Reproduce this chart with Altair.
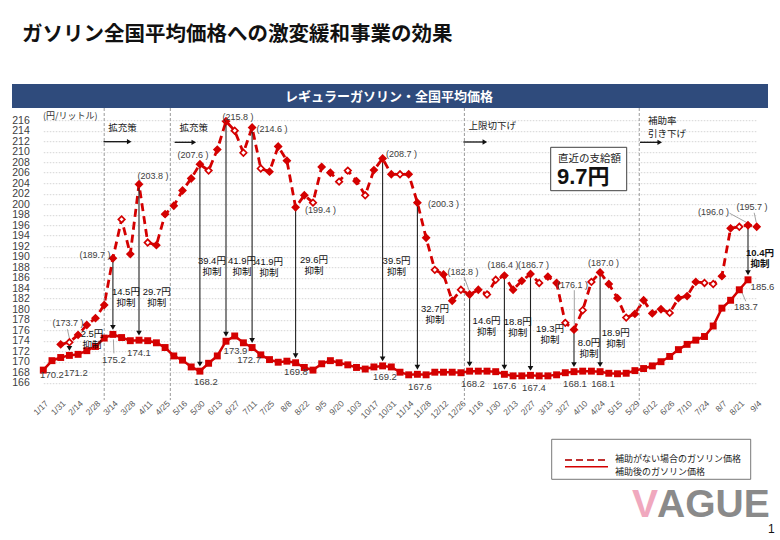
import json
import altair as alt
import pandas as pd

# ---------------- data ----------------
date_labels = ["1/17", "1/31", "2/14", "2/28", "3/14", "3/28", "4/11", "4/25",
               "5/16", "5/30", "6/13", "6/27", "7/11", "7/25", "8/8", "8/22",
               "9/5", "9/20", "10/3", "10/17", "10/31", "11/14", "11/28", "12/12",
               "12/26", "1/16", "1/30", "2/13", "2/27", "3/13", "3/27", "4/10",
               "4/24", "5/15", "5/29", "6/12", "6/26", "7/10", "7/24", "8/7",
               "8/21", "9/4"]

# 補助後のガソリン価格 (weekly, index 0..81)
after_subsidy = [168.4, 170.2, 170.8, 171.2, 171.4, 172.1, 172.9, 174.5, 175.2, 174.6,
                 174.0, 174.1, 174.0, 173.6, 172.7, 171.1, 170.3, 169.0, 168.2, 169.7,
                 171.1, 173.9, 174.9, 173.6, 172.7, 171.3, 170.4, 169.9, 170.1, 169.8,
                 168.9, 168.4, 169.6, 170.2, 169.8, 169.4, 168.9, 168.6, 169.0, 169.2,
                 169.0, 168.0, 167.5, 167.6, 167.5, 168.0, 168.0, 168.0, 167.9, 168.2,
                 168.2, 168.2, 168.1, 167.6, 167.3, 167.3, 167.4, 167.3, 167.3, 167.5,
                 167.9, 168.1, 168.2, 168.2, 168.1, 167.8, 167.7, 167.8, 168.3, 168.7,
                 169.2, 170.0, 171.0, 172.3, 173.3, 174.1, 174.8, 176.8, 180.2, 181.7,
                 183.7, 185.6]

# 補助がない場合のガソリン価格 (weekly, index 2..82)
no_subsidy_start = 2
no_subsidy = [173.3, 173.7, 175.1, 177.0, 178.3, 180.8, 189.7, 197.1, 190.5, 203.8,
              192.7, 192.2, 198.1, 199.7, 202.6, 204.9, 207.6, 206.4, 210.4, 215.8,
              214.0, 209.8, 214.6, 206.8, 206.2, 211.0, 208.3, 199.4, 201.7, 200.3,
              207.1, 206.0, 204.3, 206.4, 204.4, 201.7, 206.5, 208.7, 205.7, 205.7,
              205.7, 200.3, 193.6, 187.5, 186.6, 181.6, 183.7, 182.8, 183.7, 182.8,
              185.6, 186.4, 183.7, 185.4, 186.7, 185.0, 186.2, 185.0, 177.4, 176.1,
              179.8, 185.2, 187.0, 184.8, 182.1, 178.4, 179.1, 181.7, 179.2, 180.0,
              179.3, 182.1, 182.5, 185.2, 185.0, 184.8, 186.3, 195.4, 195.7, 196.0,
              195.7]
no_subsidy_open = [3, 9, 12, 19, 22, 23, 25, 31, 34, 35, 37, 41, 45, 48, 51, 52,
                   57, 60, 62, 63, 67, 72, 76, 77, 80]

subsidy_idx = [3, 8, 11, 18, 21, 24, 29, 39, 43, 49, 53, 56, 61, 64, 81]
subsidy_amount = [2.5, 14.5, 29.7, 39.4, 41.9, 41.9, 29.6, 39.5, 32.7, 14.6,
                  18.8, 19.3, 8.0, 18.9, 10.4]

no_subsidy_label_idx = [3, 8, 11, 18, 21, 24, 29, 39, 43, 49, 53, 56, 61, 64, 81, 82]
after_label_idx = [1, 3, 8, 11, 18, 21, 24, 29, 39, 43, 49, 53, 56, 61, 64, 80, 81]

policy_idx = [7, 14.6, 48.4, 68.5]
policy_text = [["拡充策"], ["拡充策"], ["上限切下げ"], ["補助率", "引き下げ"]]

title_text = "ガソリン全国平均価格への激変緩和事業の効果"
banner_text = "レギュラーガソリン・全国平均価格"
unit_text = "(円/リットル)"
latest_label = "直近の支給額"
latest_value = "9.7円"
legend_dashed = "補助がない場合のガソリン価格"
legend_solid = "補助後のガソリン価格"
suppress_word = "抑制"

# ---------------- layout / style ----------------
RED = "#D40000"
NUMFONT = "Liberation Sans, Noto Sans CJK JP"
JPFONT = "Noto Sans CJK JP"
W, H = 713.4, 262.5
PAD_L, PAD_T = 43.3, 120.2
X_MAX = 82
Y_MIN, Y_MAX = 166, 216
PX_X = W / X_MAX            # pixels per index step
PX_Y = H / (Y_MAX - Y_MIN)  # pixels per yen


def ax(a):
    return a - PAD_L


def ay(a):
    return a - PAD_T


def sx(i):
    return i * PX_X


# label offsets (pixels) relative to their point
no_sub_label_off = [(-1.4, -19), (-18, -3), (14, -8), (-7, -9), (12, -4), (20, 1),
                    (25, 3), (19, -5), (26, 1.5), (-6.6, -23), (-1.5, -10.6), (3, -9),
                    (-1.5, -44.7), (3.4, -9.8), (-34.5, -13), (-4.7, -19.5)]
after_label_off = [(0, 14), (6.5, 18), (1, 25.6), (0, 13), (6, 10.6), (9.5, 9.5),
                   (-3, 12.5), (0.4, 9.6), (2.4, 10.8), (2.6, 12.4), (3.4, 13), (0, 11.4),
                   (3.5, 12.3), (1, 12.6), (3, 12.6), (6.5, 17), (14.5, 7.5)]
subsidy_label_off = [(22.6, -21.4), (13, -42.7), (17.7, -48.5), (12, -110.5), (16, -80.5),
                     (17, -85.2), (18.4, -102.8), (14, -104.9), (17.6, -65.3), (17, -50.2),
                     (13.3, -52), (19.5, -46.4), (15, -28.7), (15.6, -38.7), (12, -26.5)]
LINE2 = 11
HEAD_UP = 7  # arrow head centre above the solid point (px)

# thin leader lines: (index, series, start offset px, end offset px) relative to the point
leaders = [(3, "no", (-2, -13), (0, -4)),
           (8, "after", (0.5, 5), (1, 19)),
           (49, "no", (-5.5, -17.5), (-0.5, -4)),
           (61, "no", (0.3, -39.5), (0.3, -5)),
           (80, "after", (2.4, 2), (6.5, 11.5)),
           (81, "no", (-18.5, -12), (-1, -2.5)),
           (82, "no", (-2.5, -14), (-0.5, -4.5))]

policy_text_off = [(4, [128.3]), (9.3, [128.3]), (4, [125.5]), (8.7, [121.2, 133.8])]
policy_arrow = [(-0.7, 28, 141.7), (4.3, 26.5, 142.3), (-1, 23.5, 142), (0.7, 23.5, 142.3)]

# ---------------- tables ----------------
after_df = pd.DataFrame({"idx": list(range(len(after_subsidy))), "val": after_subsidy})
no_idx = list(range(no_subsidy_start, no_subsidy_start + len(no_subsidy)))
no_df = pd.DataFrame({"idx": no_idx, "val": no_subsidy,
                      "open": [i in no_subsidy_open for i in no_idx]})
after_map = dict(zip(after_df.idx, after_df.val))
no_map = dict(zip(no_df.idx, no_df.val))

arrow_df = pd.DataFrame({"idx": subsidy_idx,
                         "top": [no_map[i] for i in subsidy_idx],
                         "bottom": [after_map[i] for i in subsidy_idx]})
arrow_df["head"] = arrow_df["bottom"] + HEAD_UP / PX_Y


def placed(idx_list, vals, texts, offs, extra=None):
    rows = []
    for k, (i, v, t) in enumerate(zip(idx_list, vals, texts)):
        dx, dy = offs[k]
        r = {"idx": i + dx / PX_X, "val": v - dy / PX_Y, "text": t}
        if extra:
            r.update(extra[k])
        rows.append(r)
    return pd.DataFrame(rows)


no_lab_df = placed(no_subsidy_label_idx, [no_map[i] for i in no_subsidy_label_idx],
                   [f"({no_map[i]:.1f} )" for i in no_subsidy_label_idx], no_sub_label_off)
after_lab_df = placed(after_label_idx, [after_map[i] for i in after_label_idx],
                      [f"{after_map[i]:.1f}" for i in after_label_idx], after_label_off)

s_idx, s_val, s_txt, s_off, s_bold = [], [], [], [], []
for k, (i, a) in enumerate(zip(subsidy_idx, subsidy_amount)):
    dx, dy = subsidy_label_off[k]
    bold = (k == len(subsidy_idx) - 1)
    for t, d in ((f"{a:.1f}円", dy), (suppress_word, dy + LINE2)):
        s_idx.append(i)
        s_val.append(after_map[i])
        s_txt.append(t)
        s_off.append((dx, d))
        s_bold.append({"bold": bold})
sub_df = placed(s_idx, s_val, s_txt, s_off, s_bold)

lead_rows = []
for i, series, (x1, y1), (x2, y2) in leaders:
    v = no_map[i] if series == "no" else after_map[i]
    lead_rows.append({"idx": i + x1 / PX_X, "val": v - y1 / PX_Y,
                      "idx2": i + x2 / PX_X, "val2": v - y2 / PX_Y})
lead_df = pd.DataFrame(lead_rows)

policy_df = pd.DataFrame({"idx": policy_idx})
dummy = pd.DataFrame({"a": [0]})

# ---------------- scales / axes ----------------
x_scale = alt.Scale(domain=[0, X_MAX], nice=False, zero=False)
y_scale = alt.Scale(domain=[Y_MIN, Y_MAX], nice=False, zero=False)
label_expr = json.dumps(date_labels, ensure_ascii=False) + "[round(datum.value / 2)]"
x_axis = alt.Axis(values=list(range(0, 83, 2)), labelExpr=label_expr, labelAngle=-45,
                  labelFontSize=8.5, labelColor="#595959", labelFont="Liberation Sans",
                  labelPadding=16, ticks=False, domain=False, grid=False, title=None,
                  labelOverlap=False, labelFlush=False, labelBound=False)
y_axis = alt.Axis(values=list(range(166, 217, 2)), labelFontSize=10.5, labelColor="#404040",
                  labelFont="Liberation Sans", labelPadding=14, ticks=False, domain=False,
                  grid=True, gridColor="#c9c9c9", gridDash=[1.5, 1.5], gridWidth=0.8,
                  title=None, labelOverlap=False)


def X(field="idx"):
    return alt.X(f"{field}:Q", scale=x_scale, axis=x_axis, title=None)


def Y(field="val"):
    return alt.Y(f"{field}:Q", scale=y_scale, axis=y_axis, title=None)


def ptext(text, x, y, **kw):
    return alt.Chart(dummy).mark_text(**kw).encode(
        x=alt.value(ax(x)), y=alt.value(ay(y)), text=alt.value(text))


layers = []

# series line (dashed) first
layers.append(alt.Chart(no_df).mark_line(color=RED, strokeWidth=2.8, strokeDash=[8, 5]).encode(
    x=X(), y=Y()))

# header
layers.append(ptext(title_text, 22, 35, font=JPFONT, fontSize=20.5, fontWeight="bold",
                    align="left", baseline="middle", color="#111111"))
layers.append(alt.Chart(dummy).mark_rect(fill="#2F4B7C").encode(
    x=alt.value(ax(12)), x2=alt.value(ax(768)), y=alt.value(ay(84)), y2=alt.value(ay(108))))
layers.append(ptext(banner_text, 389, 96.5, font=JPFONT, fontSize=13, fontWeight="bold",
                    align="center", baseline="middle", color="white"))
layers.append(ptext(unit_text, 43, 116, font=JPFONT, fontSize=9, align="left",
                    baseline="middle", color="#333333"))

# policy separators
layers.append(alt.Chart(policy_df).mark_rule(color="#9a9a9a", strokeDash=[3, 2], strokeWidth=1).encode(
    x=X(), y=alt.value(ay(108)), y2=alt.value(ay(400))))
for k, i in enumerate(policy_idx):
    dx, ys = policy_text_off[k]
    for t, yy in zip(policy_text[k], ys):
        layers.append(ptext(t, PAD_L + sx(i) + dx, yy, font=JPFONT, fontSize=9.5, align="left",
                            baseline="middle", color="#222222"))
    s, e, yy = policy_arrow[k]
    layers.append(alt.Chart(dummy).mark_rule(color="#111111", strokeWidth=1.3).encode(
        x=alt.value(sx(i) + s), x2=alt.value(sx(i) + e - 3), y=alt.value(ay(yy))))
    layers.append(alt.Chart(dummy).mark_point(shape="triangle-right", filled=True, size=28,
                                              color="#111111", opacity=1).encode(
        x=alt.value(sx(i) + e - 3), y=alt.value(ay(yy))))

# subsidy arrows
layers.append(alt.Chart(arrow_df).mark_rule(color="#222222", strokeWidth=1.1).encode(
    x=X(), y=Y("top"), y2="head:Q"))

# leader lines
layers.append(alt.Chart(lead_df).mark_rule(color="#8c8c8c", strokeWidth=0.8).encode(
    x=X(), y=Y(), x2="idx2:Q", y2="val2:Q"))

layers.append(alt.Chart(after_df).mark_line(color=RED, strokeWidth=2.5).encode(
    x=X(), y=Y()))
layers.append(alt.Chart(no_df).mark_point(shape="diamond", filled=True, size=42, stroke=RED,
                                          strokeWidth=1.7, opacity=1).encode(
    x=X(), y=Y(),
    fill=alt.condition("datum.open", alt.value("white"), alt.value(RED))))
layers.append(alt.Chart(after_df).mark_point(shape="square", filled=True, size=48,
                                             color=RED, opacity=1).encode(x=X(), y=Y()))

# arrow heads
layers.append(alt.Chart(arrow_df).mark_point(shape="triangle-down", filled=True, size=32,
                                             color="#111111", opacity=1).encode(
    x=X(), y=Y("head")))


# labels
def label_layer(df, **kw):
    return alt.Chart(df).mark_text(**kw).encode(x=X(), y=Y(), text="text:N")


layers.append(label_layer(no_lab_df, font=NUMFONT, fontSize=9, color="#404040",
                          align="center", baseline="middle"))
layers.append(label_layer(after_lab_df, font=NUMFONT, fontSize=9.5, color="#404040",
                          align="center", baseline="middle"))
layers.append(label_layer(sub_df[~sub_df["bold"]], font=NUMFONT, fontSize=9.5, color="#111111",
                          align="center", baseline="middle"))
layers.append(label_layer(sub_df[sub_df["bold"]], font=NUMFONT, fontSize=9.5, fontWeight="bold",
                          color="#111111", align="center", baseline="middle"))

# latest payment box
layers.append(alt.Chart(dummy).mark_rect(fill="white", stroke="#404040", strokeWidth=1).encode(
    x=alt.value(ax(550.7)), x2=alt.value(ax(626.7)), y=alt.value(ay(147.3)), y2=alt.value(ay(190.7))))
layers.append(ptext(latest_label, 558, 158.5, font=JPFONT, fontSize=10.5, align="left",
                    baseline="middle", color="#222222"))
layers.append(ptext(latest_value, 557, 177, font=NUMFONT, fontSize=22, fontWeight="bold",
                    align="left", baseline="middle", color="#111111"))

# legend
layers.append(alt.Chart(dummy).mark_rect(fill="white", stroke="#555555", strokeWidth=0.8).encode(
    x=alt.value(ax(551.7)), x2=alt.value(ax(750.7)), y=alt.value(ay(439.3)), y2=alt.value(ay(479.3))))
layers.append(alt.Chart(dummy).mark_rule(color="#C03030", strokeWidth=2, strokeDash=[7, 4]).encode(
    x=alt.value(ax(565)), x2=alt.value(ax(607)), y=alt.value(ay(460))))
layers.append(alt.Chart(dummy).mark_rule(color=RED, strokeWidth=1.6).encode(
    x=alt.value(ax(565)), x2=alt.value(ax(608)), y=alt.value(ay(466.7))))
layers.append(ptext(legend_dashed, 615, 459.3, font=JPFONT, fontSize=9, align="left",
                    baseline="middle", color="#222222"))
layers.append(ptext(legend_solid, 615, 471.5, font=JPFONT, fontSize=9, align="left",
                    baseline="middle", color="#222222"))

# watermark and page number
layers.append(ptext("V", 632, 517, font="Liberation Sans", fontSize=39, fontWeight="bold",
                    align="left", baseline="alphabetic", color="#F0A8BE"))
layers.append(ptext("AGUE", 657, 517, font="Liberation Sans", fontSize=39, fontWeight="bold",
                    align="left", baseline="alphabetic", color="#8A8A8A"))
layers.append(ptext("1", 768, 529, font="Liberation Sans", fontSize=12, align="left",
                    baseline="middle", color="#111111"))

chart = alt.layer(*layers).properties(
    width=W, height=H,
    autosize=alt.AutoSizeParams(type="none"),
    padding={"left": PAD_L, "top": PAD_T, "right": 780 - PAD_L - W, "bottom": 540 - PAD_T - H},
    background="white",
).configure_view(stroke=None)

chart.save("out.html", embed_options={"renderer": "svg", "actions": False})
